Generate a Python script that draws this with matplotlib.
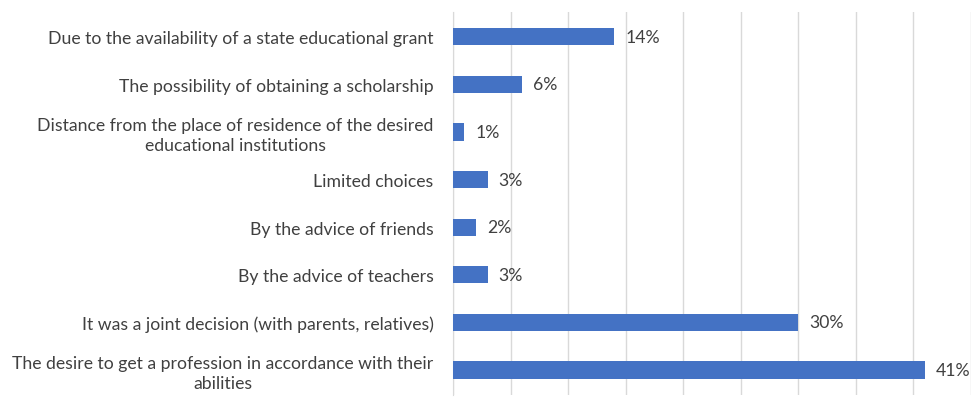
#!/usr/bin/env python3
"""Horizontal bar chart of reasons for choosing an educational path."""

import matplotlib
matplotlib.use("Agg")
import matplotlib.pyplot as plt

reasons = [
    "Due to the availability of a state educational grant",
    "The possibility of obtaining a scholarship",
    "Distance from the place of residence of the desired\neducational institutions",
    "Limited choices",
    "By the advice of friends",
    "By the advice of teachers",
    "It was a joint decision (with parents, relatives)",
    "The desire to get a profession in accordance with their\nabilities",
]
shares = [14, 6, 1, 3, 2, 3, 30, 41]


def main():
    plt.rcParams["font.family"] = ["Lato", "DejaVu Sans"]
    text_color = "#404040"

    fig = plt.figure(figsize=(9.75, 4.14), dpi=100)
    ax = fig.add_axes([0.4646, 0.0435, 0.9959 - 0.4646, 0.9693 - 0.0435])

    pos = list(range(len(reasons)))
    bars = ax.barh(pos, shares, height=0.36, color="#4472C4", zorder=3)

    for rect, v in zip(bars, shares):
        ax.annotate(f"{v}%", (rect.get_width(), rect.get_y() + rect.get_height() / 2),
                    xytext=(8, 0), textcoords="offset points",
                    ha="left", va="center", fontsize=12.7, color=text_color,
                    annotation_clip=False)

    ax.set_xlim(0, 45)
    ax.set_xticks(range(0, 46, 5))
    ax.set_xticklabels([])
    ax.tick_params(axis="x", length=0)
    ax.set_ylim(len(reasons) - 0.475, -0.525)
    ax.set_yticks(pos)
    ax.set_yticklabels(reasons, fontsize=12.7, color=text_color,
                       multialignment="center", linespacing=1.3)
    ax.tick_params(axis="y", length=0, pad=14)

    ax.grid(axis="x", color="#D9D9D9", linewidth=1, zorder=0)
    for side in ["top", "right", "bottom"]:
        ax.spines[side].set_visible(False)
    ax.spines["left"].set_color("#D9D9D9")

    fig.savefig("out.png", dpi=100)
    plt.close(fig)


if __name__ == "__main__":
    main()
